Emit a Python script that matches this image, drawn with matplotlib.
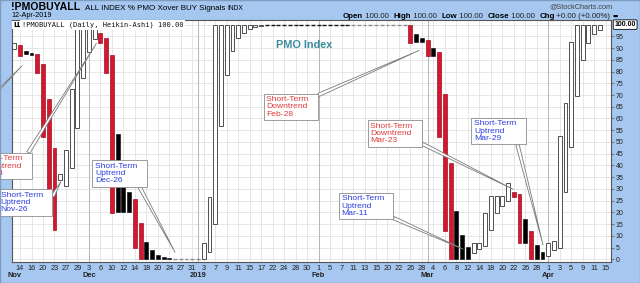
import matplotlib
matplotlib.use("Agg")
import matplotlib.pyplot as plt
import matplotlib.transforms as mtransforms
from matplotlib.patches import Rectangle
import numpy as np
import pandas as pd

plt.rcParams['font.family'] = ['Liberation Sans', 'DejaVu Sans']

W, H, DPI = 640, 283, 100

# ---------------- data ----------------
holidays = ['2018-11-22', '2018-12-05', '2018-12-25', '2019-01-01', '2019-01-21', '2019-02-18']
trading_days = pd.bdate_range('2018-11-13', '2019-04-15', freq='C', holidays=holidays)

# Heikin-Ashi bodies, Nov-13-2018 .. Apr-12-2019
ha_open = [
    # Nov
    89.4, 91.3, 88.7, 87.9, 87.4, 83.0, 68.1, 47.5, 33.8, 31.2, 38.8, 55.8, 77.3,
    # Dec
    88.4, 93.7, 96.5, 94.5, 87.0, 53.4, 36.6, 28.8, 25.5, 15.5, 7.5, 4.0, 1.9, 0.9, 0.4, 0, 0, 0, 0,
    # Jan
    0, 0, 3.0, 15.0, 57.0, 78.4, 88.9, 94.1, 96.5, 98.0, 99.0, 99.4,
    100, 100, 100, 100, 100, 100, 100, 100, 100,
    # Feb
    100, 100, 100, 100, 100, 100, 100, 100, 100, 100, 100, 100, 100, 100, 100, 100, 100, 96.2, 94.2,
    # Mar
    93.4, 90.0, 88.2, 70.4, 41.0, 20.6, 10.3, 5.1, 2.5, 4.5, 5.5, 12.5, 19.6, 22.8, 24.8, 28.8,
    27.8, 17.2, 12.1, 6.1, 3.1,
    # Apr
    1.3, 4.0, 5.0, 28.8, 47.7, 69.7, 84.8, 92.2, 95.8, 97.8,
]
ha_close = [
    # Nov
    92.2, 86.5, 87.3, 87.2, 79.5, 52.0, 26.7, 12.5, 36.5, 46.5, 72.4, 100, 100,
    # Dec
    100, 100, 92.2, 79.5, 19.8, 20.0, 20.0, 20.0, 5.0, 0, 0, 0, 0, 0, 0, 0, 0, 0, 0,
    # Jan
    0, 6.8, 26.7, 100, 100, 100, 100, 100, 100, 100, 100, 100,
    100, 100, 100, 100, 100, 100, 100, 100, 100,
    # Feb
    100, 100, 100, 100, 100, 100, 100, 100, 100, 100, 100, 100, 100, 100, 100, 100, 92.2, 92.4, 92.5,
    # Mar
    86.6, 86.7, 52.2, 12.2, 0, 0.2, 0.3, 0.3, 6.8, 6.9, 19.8, 27.0, 27.0, 27.0, 32.4, 26.7,
    6.8, 6.9, 0, 0, 0,
    # Apr
    6.8, 7.8, 52.5, 66.7, 92.4, 100, 100, 100, 100, 100,
]
# H hollow, B black filled, R red filled, F flat (black), G flat (gray)
bar_kind = list(
    "HRBBRRRRHHHHH"
    "HHRRRBBBRRBBBBBGGGG"
    "GHHHHHHHHHHHFFFFFFFFF"
    "FFFFFFGGGGGGGGGGRBB"
    "RBRRRBBBHHHHHHHRRBRBB"
    "HHHHHHHHHH"
)

ytick_vals = list(range(0, 100, 5))

callouts = [
    # text, colour, text-left (x, y), target (x, y), relpos
    ("Short-Term\nDowntrend\nDec-4", 'red', (-5.95, 39.7), (14.3, 92.0), (0.9, 0.85)),
    ("Short-Term\nUptrend\nNov-26", 'blue', (-2.4, 24.2), (8.1, 33.0), (0.9, 0.15)),
    ("Short-Term\nUptrend\nDec-26", 'blue', (14.06, 36.5), (28.0, 3.0), (0.85, 0.1)),
    ("Short-Term\nDowntrend\nFeb-28", 'red', (43.9, 64.9), (70.5, 89.0), (0.85, 0.85)),
    ("Short-Term\nDowntrend\nMar-23", 'red', (62.0, 53.7), (86.9, 29.8), (0.8, 0.3)),
    ("Short-Term\nUptrend\nMar-11", 'blue', (57.0, 22.7), (78.2, 4.3), (0.7, 0.3)),
    ("Short-Term\nUptrend\nMar-29", 'blue', (80.07, 54.6), (92.1, 6.1), (0.85, 0.15)),
]
# pointer of a callout whose box lies beyond the left edge
offscreen_pointer = ((-8.2, 58.4), (1.3, 82.3))

# ---------------- figure ----------------
fig = plt.figure(figsize=(W / DPI, H / DPI), dpi=DPI)
fig.patch.set_facecolor('#a6c7ef')

ax_l, ax_r, ax_t, ax_b = 11.7, 611.0, 20.0, 262.0
ax = fig.add_axes([ax_l / W, 1 - ax_b / H, (ax_r - ax_l) / W, (ax_b - ax_t) / H])
ax.set_facecolor('white')

o = np.array(ha_open)
c = np.array(ha_close)
k = np.array(bar_kind)
x = np.arange(len(o))
bw = 0.68

m = k == 'H'
ax.bar(x[m], (c - o)[m], bottom=o[m], width=bw, facecolor='white', edgecolor='#333333', linewidth=0.6, zorder=3)
m = k == 'B'
ax.bar(x[m], (c - o)[m], bottom=o[m], width=bw, facecolor='black', edgecolor='black', linewidth=0.4, zorder=3)
m = k == 'R'
ax.bar(x[m], (c - o)[m], bottom=o[m], width=bw, facecolor='#d2172f', edgecolor='#a10f1f', linewidth=0.5, zorder=3)
m = k == 'F'
ax.hlines(c[m], x[m] - bw / 2, x[m] + bw / 2, color='#111111', linewidth=1.0, zorder=3)
m = k == 'G'
ax.hlines(c[m], x[m] - bw / 2, x[m] + bw / 2, color='#8c8c8c', linewidth=1.0, zorder=3)

ax.set_xlim(-0.45, 103.93)
ax.set_ylim(-1.15, 101.96)

# x ticks (every other trading day)
tick_idx = list(range(1, len(trading_days), 2))
ax.set_xticks(tick_idx)
ax.set_xticklabels([str(trading_days[i].day) for i in tick_idx])
ax.tick_params(axis='x', length=0, pad=2.2, labelsize=5.3, labelcolor='#222222')

# y ticks on right
ax.yaxis.tick_right()
ax.set_yticks(ytick_vals)
ax.set_yticklabels([str(v) for v in ytick_vals])
ax.tick_params(axis='y', length=2, width=0.5, color='#555555', pad=1.5, labelsize=5.0, labelcolor='#222222')

for v in ytick_vals + [100]:
    ax.axhline(v, color='#e2e2e2', linewidth=0.6, zorder=1)
for i in tick_idx:
    ax.axvline(i, color='#e2e2e2', linewidth=0.6, zorder=1)

# month starts
month_pos, month_lab = [0], ['Nov']
for i in range(1, len(trading_days)):
    if trading_days[i].month != trading_days[i - 1].month:
        month_pos.append(i)
        month_lab.append('2019' if trading_days[i].month == 1 else trading_days[i].strftime('%b'))
for p in month_pos[1:]:
    ax.axvline(p, color='#b5b5b5', linewidth=0.7, zorder=1)
btrans = mtransforms.blended_transform_factory(ax.transData, fig.transFigure)
for p, lab in zip(month_pos, month_lab):
    ax.text(p, 1 - 275.8 / H, lab, transform=btrans, ha='center', va='center',
            fontsize=5.4, fontweight='bold', color='#222222', clip_on=False)

for s in ax.spines.values():
    s.set_color('#555555')
    s.set_linewidth(0.8)

# current value tag
ax.annotate('100.00', xy=(1.0, 100), xycoords=('axes fraction', 'data'), xytext=(2.5, 0),
            textcoords='offset points', va='center', ha='left', fontsize=5.0, fontweight='bold',
            bbox=dict(boxstyle='round,pad=0.18', fc='white', ec='black', lw=0.6), annotation_clip=False)

# PMO Index label
ax.text(50.46, 91.2, 'PMO Index', ha='center', va='center', fontsize=7.8, fontweight='bold',
        color='#3a8c9c', zorder=5)

# callouts
wedge = dict(arrowstyle='wedge,tail_width=0.4,shrink_factor=0.5', fc='white', ec='#7a7a7a', lw=0.6,
             shrinkA=0, shrinkB=0)
ax.annotate('', xy=offscreen_pointer[1], xytext=offscreen_pointer[0], textcoords='data',
            fontsize=6.1, arrowprops=wedge, annotation_clip=False, zorder=6)
col = {'red': '#e23b3b', 'blue': '#2b3ee0'}
for txt, cc, (tx, ty), (px, py), rp in callouts:
    lines = txt.split('\n')
    lines[0] = lines[0] + '   '
    ax.annotate('\n'.join(lines), xy=(px, py), xytext=(tx, ty), textcoords='data',
                ha='left', va='center', fontsize=6.1, color=col[cc], linespacing=1.05,
                bbox=dict(boxstyle='square,pad=0.3', fc='white', ec='#8c8c8c', lw=0.6),
                arrowprops=dict(wedge, relpos=rp),
                annotation_clip=False, zorder=6)

# ---------------- header texts ----------------
renderer = fig.canvas.get_renderer()


def place_chunks(x_px, base_px, chunks, align='left'):
    texts = []
    for s, kw in chunks:
        t = fig.text(0, 1 - base_px / H, s, va='baseline', ha='left', **kw)
        texts.append(t)
    widths = [t.get_window_extent(renderer).width for t in texts]
    total = sum(widths)
    xx = x_px if align == 'left' else x_px - total
    for t, w in zip(texts, widths):
        t.set_x(xx / W)
        xx += w


place_chunks(11.5, 10.0, [('!PMOBUYALL', dict(fontsize=7.6, fontweight='bold', color='black')),
                          ('  ALL INDEX % PMO Xover BUY Signals ', dict(fontsize=5.8, color='black')),
                          ('INDX', dict(fontsize=4.8, color='black'))])
place_chunks(11.5, 17.4, [('12-Apr-2019', dict(fontsize=5.2, color='black'))])
place_chunks(613, 8.3, [('@StockCharts.com', dict(fontsize=5.3, color='#444444'))], align='right')
b = dict(fontsize=5.7, fontweight='bold', color='black')
r = dict(fontsize=5.7, color='#222222')
place_chunks(618, 18.3, [('Open', b), (' 100.00  ', r), ('High', b), (' 100.00  ', r), ('Low', b),
                         (' 100.00  ', r), ('Close', b), (' 100.00  ', r), ('Chg', b),
                         (' +0.00 (+0.00%) ', r), ('▬', dict(fontsize=4.0, color='black', family='DejaVu Sans'))],
             align='right')

# legend line inside plot
fig.text(13.5 / W, 1 - 25.0 / H, 'Ш', fontsize=5.0, fontweight='bold', va='center', ha='left',
         family='DejaVu Sans', bbox=dict(fc='white', ec='none', pad=1.0), zorder=10)
fig.text(22.0 / W, 1 - 25.0 / H, '!PMOBUYALL (Daily, Heikin-Ashi) 100.00', fontsize=5.0,
         family='DejaVu Sans Mono', va='center', ha='left', color='#111111',
         bbox=dict(fc='white', ec='none', pad=1.2), zorder=10)

fig.patches.append(Rectangle((0, 0), 1, 1, transform=fig.transFigure, fill=False,
                             ec='#7d9cc0', lw=1.0))

fig.savefig('out.png', dpi=DPI, facecolor=fig.get_facecolor())
